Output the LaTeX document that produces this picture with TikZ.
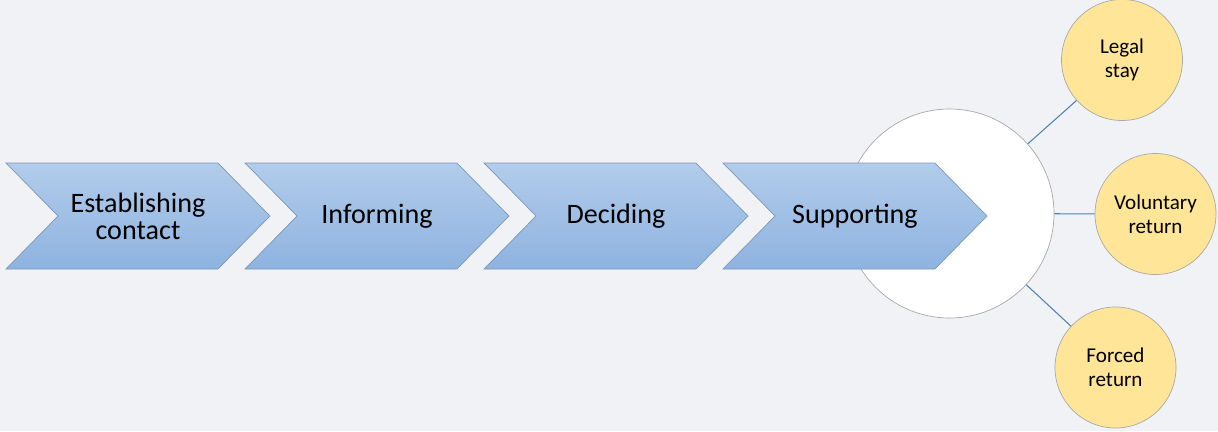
\documentclass[tikz,border=0pt]{standalone}
\usepackage{fontspec}
\setmainfont{Carlito}
\usepackage{xcolor}
\definecolor{bgpage}{HTML}{F0F2F6}
\definecolor{chevtop}{HTML}{B2CCEA}
\definecolor{chevbot}{HTML}{8EB3E0}
\definecolor{chevline}{HTML}{7E97B8}
\definecolor{outgold}{HTML}{FFE598}
\definecolor{outline}{HTML}{A9A9A9}
\definecolor{linkblue}{HTML}{4F81B5}
\usetikzlibrary{shapes.symbols, positioning, calc}

\tikzset{
  stage/.style={signal, signal from=west, signal to=east, signal pointer angle=91,
    minimum width=5.28cm, minimum height=2.12cm, inner sep=0pt,
    top color=chevtop, bottom color=chevbot, draw=chevline, thin,
    align=center, font=\fontsize{16}{15.5}\selectfont},
  outcome/.style={circle, fill=outgold, draw=outline, thin, minimum size=2.42cm,
    inner sep=0pt, align=center, font=\fontsize{12}{13.6}\selectfont},
  link/.style={linkblue, semithick}
}

\begin{document}
\begin{tikzpicture}
\fill[bgpage] (0,0) rectangle (24.36,-8.62);
\useasboundingbox (0,0) rectangle (24.36,-8.62);
% hub behind the last stage
\node[circle, fill=white, draw=outline, thin, minimum size=4.18cm] (hub) at (18.99,-4.27) {};
% stages
\node[stage] (contact) at (2.76,-4.32) {Establishing\\contact};
\node[stage] (inform) at (7.54,-4.32) {Informing};
\node[stage] (decide) at (12.32,-4.32) {Deciding};
\node[stage] (support) at (17.10,-4.32) {Supporting};
% outcomes
\node[outcome] (stay) at (22.44,-1.20) {Legal\\stay};
\node[outcome] (voluntary) at (23.11,-4.28) {Voluntary\\return};
\node[outcome] (forced) at (22.31,-7.35) {Forced\\return};
\draw[link] (hub) -- (stay);
\draw[link] (hub) -- (voluntary);
\draw[link] (hub) -- (forced);
\end{tikzpicture}
\end{document}
